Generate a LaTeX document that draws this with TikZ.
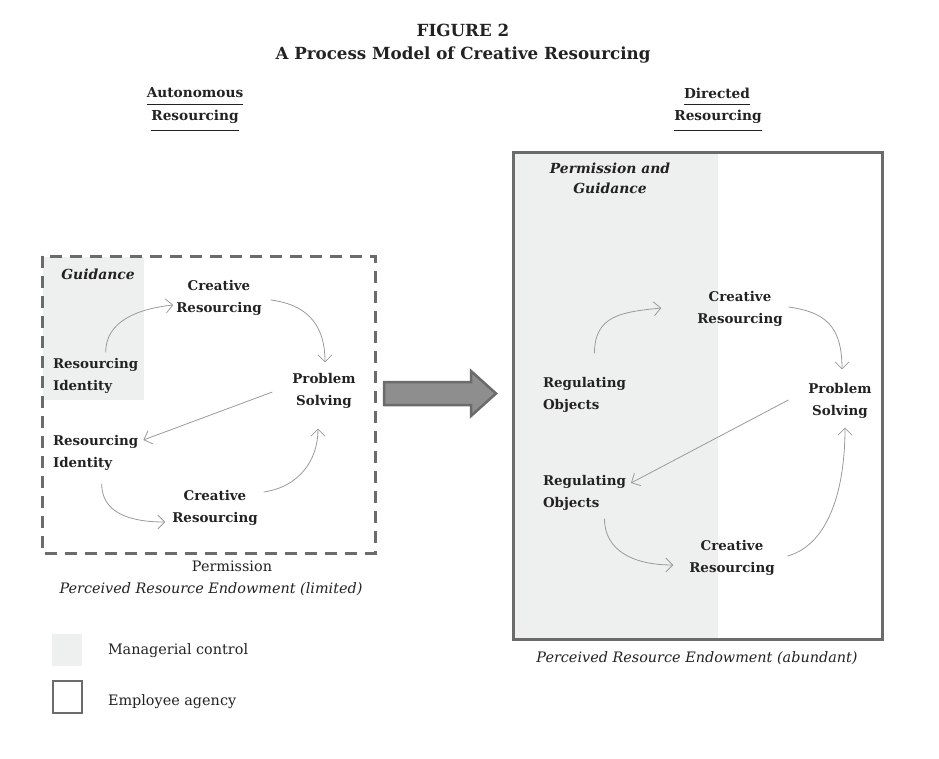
\documentclass[tikz,border=0pt]{standalone}
\usepackage{fontspec}
\setmainfont{DejaVu Serif}
\usetikzlibrary{arrows.meta,calc}
\definecolor{mgrshade}{HTML}{EEF0EF}
\definecolor{frame}{HTML}{6B6B6B}
\definecolor{flow}{HTML}{9A9A9A}
\definecolor{ink}{HTML}{222222}
\definecolor{bigarrow}{HTML}{8E8E8E}
\begin{document}
\begin{tikzpicture}[x=1pt,y=-1pt,
  every node/.style={inner sep=0pt,outer sep=0pt,text=ink},
  lbl/.style={font=\fontsize{13.4}{22}\selectfont\bfseries,align=center},
  lbll/.style={font=\fontsize{13.4}{22}\selectfont\bfseries,align=left,anchor=west},
  ctl/.style={font=\fontsize{13.9}{20}\selectfont\bfseries\itshape,align=center},
  plain/.style={font=\fontsize{14.4}{15}\selectfont},
  plainit/.style={font=\fontsize{14.4}{15}\selectfont\itshape},
  flowline/.style={draw=flow,line width=0.8pt,-{Straight Barb[length=7pt,width=14pt,line width=0.8pt]}},
  ttl/.style={font=\fontsize{16.7}{23}\selectfont\bfseries,align=center},
  head/.style={font=\fontsize{13.7}{15}\selectfont\bfseries},
  uline/.style={draw=ink,line width=1pt}]
\useasboundingbox (0,0) rectangle (939,758);
% title
\node[ttl] (title) at (463,44) {FIGURE 2\\A Process Model of Creative Resourcing};
% column heads
\node[head] (auto1) at (195,93) {Autonomous};
\node[head] (auto2) at (195,117) {Resourcing};
\draw[uline] ([yshift=-6pt]auto1.south west) -- ([yshift=-6pt]auto1.south east);
\draw[uline] ([yshift=-7pt]auto2.south west) -- ([yshift=-7pt]auto2.south east);
\node[head] (dir1) at (717,93) {Directed};
\node[head] (dir2) at (718,117) {Resourcing};
\draw[uline] ([yshift=-6pt]dir1.south west) -- ([yshift=-6pt]dir1.south east);
\draw[uline] ([yshift=-7pt]dir2.south west) -- ([yshift=-7pt]dir2.south east);
% left panel
\fill[mgrshade] (43,257) rectangle (144,400);
\draw[frame,line width=3pt,dash pattern=on 12pt off 8pt] (42,256) rectangle (375,553);
\node[ctl] (guid) at (98,274) {Guidance};
\node[lbl] (lcr1) at (219,298) {Creative\\Resourcing};
\node[lbll] (lri1) at (53,376) {Resourcing\\Identity};
\node[lbl] (lps) at (324,391) {Problem\\Solving};
\node[lbll] (lri2) at (53,453) {Resourcing\\Identity};
\node[lbl] (lcr2) at (215,508) {Creative\\Resourcing};
\draw[flowline] ($(lri1.north)+(10,-6)$) .. controls +(0,-30) and +(-38,4) .. ($(lcr1.west)+(-3,7)$);
\draw[flowline] ($(lcr1.east)+(9,2)$) .. controls +(32,4) and +(0,-42) .. ($(lps.north)+(1,-11)$);
\draw[flowline] ($(lps.west)+(-20,1)$) -- ($(lri2.east)+(5,-13)$);
\draw[flowline] ($(lri2.south)+(6,13)$) .. controls +(0,28) and +(-38,0) .. ($(lcr2.west)+(-7,14)$);
\draw[flowline] ($(lcr2.east)+(6,-16)$) .. controls +(35,-5) and +(0,32) .. ($(lps.south)+(-6,20)$);
\node[plain] (perm) at (232,566) {Permission};
\node[plainit] (endl) at (211,589) {Perceived Resource Endowment (limited)};
% big arrow
\draw[frame,fill=bigarrow,line width=2.5pt,line join=miter] (384,382) -- (471,382) -- (471,371) -- (496,393.5) -- (471,416) -- (471,405) -- (384,405) -- cycle;
% right panel
\fill[mgrshade] (514,153) rectangle (718,638);
\draw[frame,line width=3pt] (513,152) rectangle (882,639);
\node[ctl] (pg) at (610,178) {Permission and\\Guidance};
\node[lbl] (rcr1) at (740,309) {Creative\\Resourcing};
\node[lbll] (rro1) at (543,395) {Regulating\\Objects};
\node[lbl] (rps) at (840,401) {Problem\\Solving};
\node[lbll] (rro2) at (543,493) {Regulating\\Objects};
\node[lbl] (rcr2) at (732,558) {Creative\\Resourcing};
\draw[flowline] ($(rro1.north)+(10,-24)$) .. controls +(0,-38) and +(-40,4) .. ($(rcr1.west)+(-36,-1)$);
\draw[flowline] ($(rcr1.east)+(6,-2)$) .. controls +(35,5) and +(0,-45) .. ($(rps.north)+(2,-14)$);
\draw[flowline] ($(rps.west)+(-20,-1)$) -- ($(rro2.east)+(5,-10)$);
\draw[flowline] ($(rro2.south)+(20,8)$) .. controls +(0,32) and +(-40,0) .. ($(rcr2.west)+(-16,7)$);
\draw[flowline] ($(rcr2.east)+(13,-2)$) .. controls +(42,-12) and +(0,60) .. ($(rps.south)+(5,9)$);
\node[plainit] (endr) at (697,658) {Perceived Resource Endowment (abundant)};
% legend
\fill[mgrshade] (52,634) rectangle (82,666);
\node[plain,anchor=west] (lg1) at (108,651) {Managerial control};
\draw[frame,line width=2.5pt] (53,681) rectangle (82,713);
\node[plain,anchor=west] (lg2) at (108,702) {Employee agency};
\end{tikzpicture}
\end{document}
